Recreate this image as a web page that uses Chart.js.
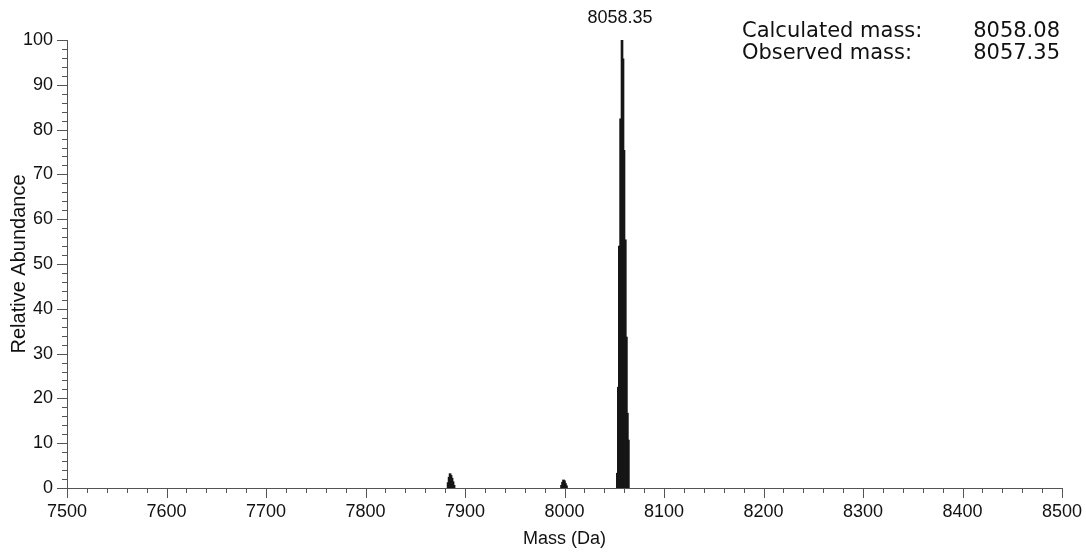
<!DOCTYPE html>
<html>
<head>
<meta charset="utf-8">
<script src="https://cdn.jsdelivr.net/npm/chart.js@4.4.1/dist/chart.umd.min.js"></script>
<style>
  html,body{margin:0;padding:0;background:#fff;}
  #wrap{width:1086px;height:552px;position:relative;}
</style>
</head>
<body>
<div id="wrap"><canvas id="spec" width="1086" height="552"></canvas></div>
<script>
// deconvoluted spectrum
const mainMass = [8053.1, 8054.1, 8055.1, 8056.4, 8057.8, 8058.8, 8059.8, 8061.1, 8062.2, 8063.2, 8064.2];
const mainAbund = [3.3, 22.5, 54, 82.4, 100, 95.8, 75.4, 55.4, 33.7, 16.7, 10.7];
const minorMass1 = [7883, 7884, 7885, 7886, 7887, 7888, 7889];
const minorAbund1 = [1.2, 2.4, 3.2, 2.8, 2.2, 1.4, 0.6];
const minorMass2 = [7997, 7998, 7999, 8000, 8001, 8002];
const minorAbund2 = [0.6, 1.3, 1.8, 1.6, 1.0, 0.5];
const peakLabel = '8058.35';
const infoRows = [['Calculated mass:', '8058.08'], ['Observed mass:', '8057.35']];
const xMin = 7500, xMax = 8500, xStep = 20, xMajor = 100;
const yMin = 0, yMax = 100, yStep = 2, yMajor = 10;

const pts = (xs, ys) => xs.map((x, i) => ({x: x, y: ys[i]}));
const FONT = '"Liberation Sans", Arial, sans-serif';
const axisCol = '#555';

const tickPlugin = {
  id: 'ticksAndText',
  afterDraw(chart){
    const c = chart.ctx, xs = chart.scales.x, ys = chart.scales.y, a = chart.chartArea;
    c.save();
    c.strokeStyle = axisCol; c.lineWidth = 1;
    // x ticks
    xs.ticks.forEach(t => {
      const px = Math.round(xs.getPixelForValue(t.value)) + 0.5;
      const len = Math.round(t.value) % xMajor === 0 ? 10 : 5;
      c.beginPath(); c.moveTo(px, a.bottom); c.lineTo(px, a.bottom + len); c.stroke();
    });
    // y ticks
    ys.ticks.forEach(t => {
      const py = Math.round(ys.getPixelForValue(t.value)) + 0.5;
      const len = Math.round(t.value) % yMajor === 0 ? 10 : 5;
      c.beginPath(); c.moveTo(a.left - len, py); c.lineTo(a.left, py); c.stroke();
    });
    // peak label
    const iMax = mainAbund.indexOf(Math.max(...mainAbund));
    c.fillStyle = '#111';
    c.font = '18px ' + FONT;
    c.textAlign = 'center'; c.textBaseline = 'middle';
    c.fillText(peakLabel, xs.getPixelForValue(mainMass[iMax]) - 2, ys.getPixelForValue(mainAbund[iMax]) - 22);
    // mass info
    c.font = '21px "DejaVu Sans", Verdana, sans-serif';
    infoRows.forEach((r, i) => {
      const y = 32 + i * 22;
      c.textAlign = 'left'; c.fillText(r[0], 742, y);
      c.textAlign = 'right'; c.fillText(r[1], 1060, y);
    });
    c.restore();
  }
};

const barSet = (data) => ({
  data: data, backgroundColor: '#161616', borderWidth: 0,
  barThickness: 2, grouped: false
});

new Chart(document.getElementById('spec'), {
  type: 'bar',
  data: {
    datasets: [
      barSet(pts(mainMass, mainAbund)),
      barSet(pts(minorMass1, minorAbund1)),
      barSet(pts(minorMass2, minorAbund2))
    ]
  },
  options: {
    responsive: false,
    animation: false,
    layout: {padding: {top: 40, right: 24, left: 0, bottom: 0}},
    plugins: {legend: {display: false}, tooltip: {enabled: false}},
    scales: {
      x: {
        type: 'linear', min: xMin, max: xMax, offset: false,
        grid: {display: false, drawTicks: true, tickLength: 10},
        border: {display: true, color: axisCol},
        ticks: {
          stepSize: xStep, autoSkip: false, maxRotation: 0, padding: 3,
          color: '#111', font: {family: FONT, size: 18},
          callback: v => Math.round(v) % xMajor === 0 ? String(Math.round(v)) : ''
        },
        title: {display: true, text: 'Mass (Da)', color: '#111', font: {family: FONT, size: 18}, padding: {top: 2, bottom: 2}},
        afterFit: s => { s.height = 64; }
      },
      y: {
        min: yMin, max: yMax,
        grid: {display: false, drawTicks: true, tickLength: 10},
        border: {display: true, color: axisCol},
        ticks: {
          stepSize: yStep, autoSkip: false, padding: 4,
          color: '#111', font: {family: FONT, size: 18},
          callback: v => Math.round(v) % yMajor === 0 ? String(Math.round(v)) : ''
        },
        title: {display: true, text: 'Relative Abundance', color: '#111', font: {family: FONT, size: 20}, padding: {top: 7, bottom: 0}},
        afterFit: s => { s.width = 67; }
      }
    }
  },
  plugins: [tickPlugin]
});
</script>
</body>
</html>
